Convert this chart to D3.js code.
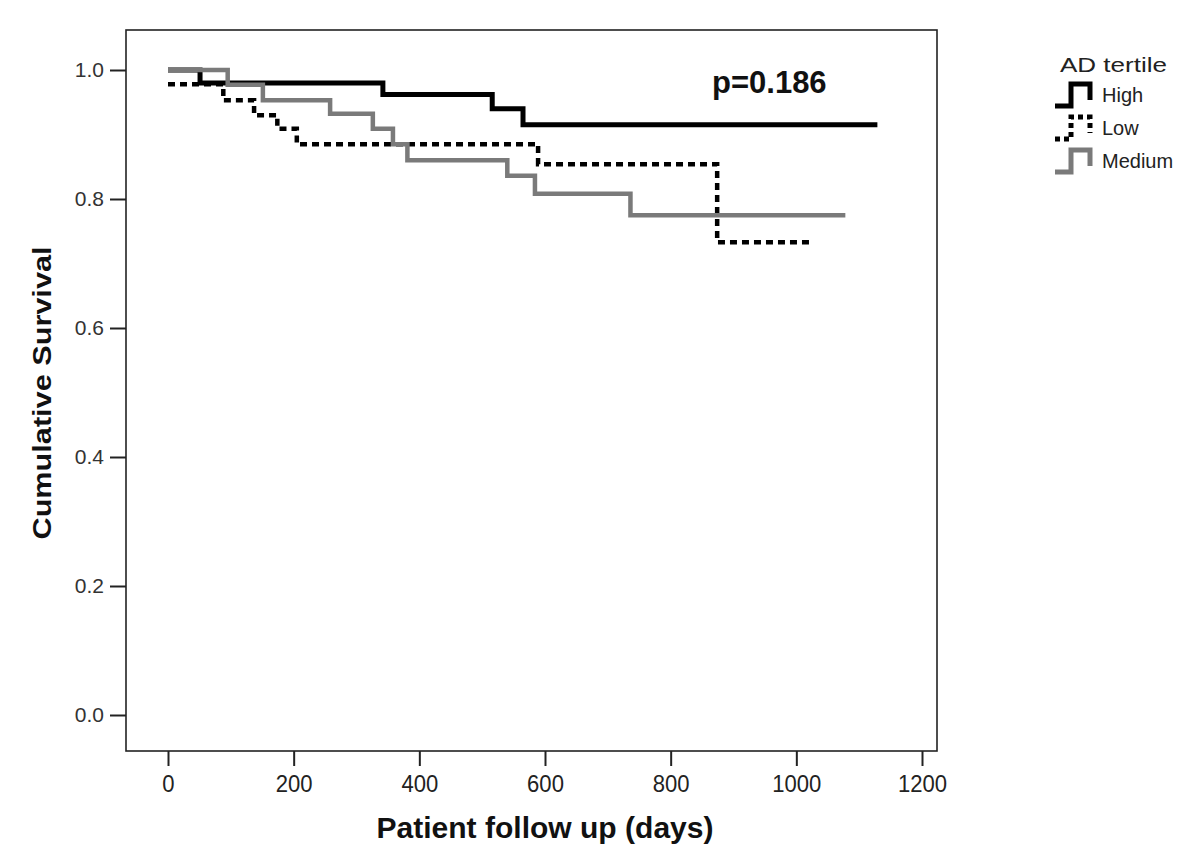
<!DOCTYPE html>
<meta charset="utf-8">
<body style="margin:0;background:#fff">
<div class="chart"></div>
<script src="https://d3js.org/d3.v7.min.js"></script>
<script>

    // Kaplan-Meier steps (days, cumulative survival)
    const highDays = [0, 51, 342, 516, 565, 1129];
    const highSurv = [1.000, 0.980, 0.962, 0.940, 0.915, 0.915];

    const lowDays = [0, 88, 137, 174, 205, 589, 874, 1022];
    const lowSurv = [0.978, 0.953, 0.930, 0.909, 0.885, 0.854, 0.733, 0.733];

    const mediumDays = [0, 95, 151, 258, 326, 358, 381, 540, 584, 736, 1078];
    const mediumSurv = [1.000, 0.977, 0.953, 0.932, 0.909, 0.885, 0.860, 0.836, 0.808, 0.775, 0.775];

    const groupNames = ["High", "Low", "Medium"];
    const xTicks = [0, 200, 400, 600, 800, 1000, 1200];
    const yTicks = [0.0, 0.2, 0.4, 0.6, 0.8, 1.0];
    const pLabel = "p=0.186";

    const width = 1200, height = 859;
    const font = "'Liberation Sans', Arial, sans-serif";

    // frame of the plot area
    const frame = {left: 126, top: 30, right: 937, bottom: 751};

    let x = d3.scaleLinear().domain([0, 1200]).range([168, 922]);
    let y = d3.scaleLinear().domain([0, 1]).range([715, 70]);

    let svg = d3.select(".chart")
        .append("svg")
        .attr("width", width)
        .attr("height", height)
        .style("font-family", font);

    svg.append("rect")
        .attr("width", width).attr("height", height)
        .attr("fill", "#fff");

    svg.append("rect")
        .attr("x", frame.left).attr("y", frame.top)
        .attr("width", frame.right - frame.left)
        .attr("height", frame.bottom - frame.top)
        .attr("fill", "none")
        .attr("stroke", "#222")
        .attr("stroke-width", 1.6);

    // y axis
    let yAxis = svg.append("g")
        .attr("transform", `translate(${frame.left},0)`)
        .call(d3.axisLeft(y).tickValues(yTicks).tickFormat(d3.format(".1f"))
            .tickSize(16).tickPadding(6));
    yAxis.select(".domain").remove();
    yAxis.selectAll("line").attr("stroke", "#222").attr("stroke-width", 2);
    yAxis.selectAll("text")
        .attr("font-size", 21).attr("font-family", font).attr("fill", "#333");

    // x axis
    let xAxis = svg.append("g")
        .attr("transform", `translate(0,${frame.bottom})`)
        .call(d3.axisBottom(x).tickValues(xTicks).tickFormat(d3.format("d"))
            .tickSize(15).tickPadding(9));
    xAxis.select(".domain").remove();
    xAxis.selectAll("line").attr("stroke", "#222").attr("stroke-width", 2);
    xAxis.selectAll("text")
        .attr("font-size", 24).attr("font-family", font).attr("fill", "#222")
        .attr("transform", "scale(0.92,1)");

    // axis titles
    svg.append("text")
        .attr("x", 545).attr("y", 838)
        .attr("text-anchor", "middle")
        .attr("font-size", 29).attr("font-weight", "bold")
        .attr("textLength", 337).attr("lengthAdjust", "spacingAndGlyphs")
        .attr("fill", "#111")
        .text("Patient follow up (days)");

    svg.append("text")
        .attr("transform", "translate(51,393) rotate(-90)")
        .attr("text-anchor", "middle")
        .attr("font-size", 26).attr("font-weight", "bold")
        .attr("textLength", 293).attr("lengthAdjust", "spacingAndGlyphs")
        .attr("fill", "#111")
        .text("Cumulative Survival");

    // survival curves
    const series = [
        {name: "High", days: highDays, surv: highSurv, color: "#000", dash: null, w: 5},
        {name: "Low", days: lowDays, surv: lowSurv, color: "#000", dash: "7,5", w: 4.5},
        {name: "Medium", days: mediumDays, surv: mediumSurv, color: "#7a7a7a", dash: null, w: 4.5}
    ];

    let stepLine = d3.line()
        .x(d => x(d[0]))
        .y(d => y(d[1]))
        .curve(d3.curveStepAfter);

    svg.append("g")
        .attr("fill", "none")
        .selectAll("path")
        .data(series)
        .join("path")
        .attr("d", s => stepLine(d3.zip(s.days, s.surv)))
        .attr("stroke", s => s.color)
        .attr("stroke-width", s => s.w)
        .attr("stroke-dasharray", s => s.dash);

    svg.append("text")
        .attr("x", 712).attr("y", 93)
        .attr("font-size", 31).attr("font-weight", "bold")
        .attr("fill", "#111")
        .text(pLabel);

    // legend
    let legend = svg.append("g");
    legend.append("text")
        .attr("x", 1060).attr("y", 72)
        .attr("font-size", 21)
        .attr("textLength", 107).attr("lengthAdjust", "spacingAndGlyphs")
        .attr("fill", "#222")
        .text("AD tertile");

    let glyph = d3.line();
    let item = legend.selectAll("g.item")
        .data(series)
        .join("g")
        .attr("class", "item")
        .attr("transform", (s, i) => `translate(0,${106 + i * 33})`);

    item.append("path")
        .attr("d", glyph([[1055, 0], [1071, 0], [1071, -22], [1090, -22], [1090, -6]]))
        .attr("fill", "none")
        .attr("stroke", s => s.color)
        .attr("stroke-width", 5)
        .attr("stroke-dasharray", s => s.dash ? "5,4" : null);

    item.append("text")
        .attr("x", 1102).attr("y", -4)
        .attr("font-size", 20)
        .attr("fill", "#222")
        .text((s, i) => groupNames[i]);

</script>
</body>
